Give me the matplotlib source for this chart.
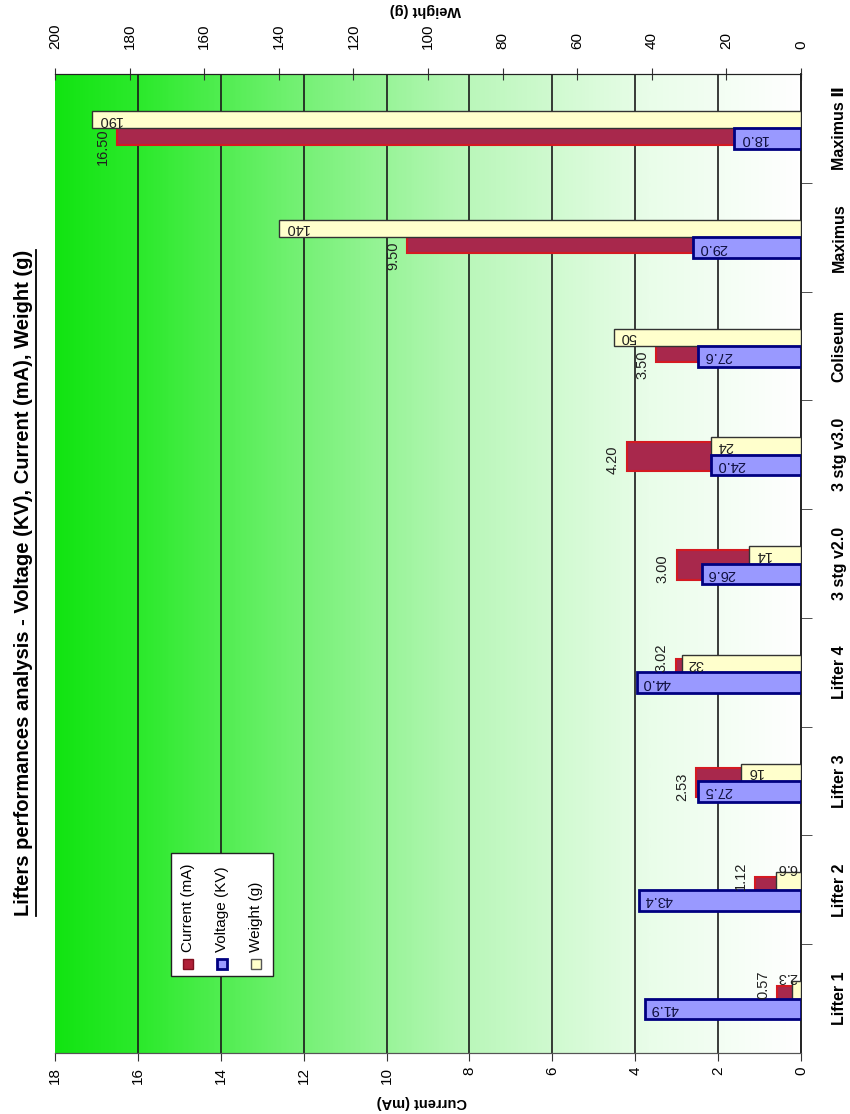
import matplotlib
matplotlib.use("Agg")
import matplotlib.pyplot as plt
import numpy as np
from matplotlib import font_manager
from matplotlib.patches import Rectangle
from matplotlib.lines import Line2D
from matplotlib.colors import LinearSegmentedColormap

# ---- data -------------------------------------------------------------
categories = ["Lifter 1", "Lifter 2", "Lifter 3", "Lifter 4", "3 stg v2.0",
              "3 stg v3.0", "Coliseum", "Maximus", "Maximus \u2161"]
current_ma = [0.57, 1.12, 2.53, 3.02, 3.00, 4.20, 3.50, 9.50, 16.50]
voltage_kv = [41.9, 43.4, 27.5, 44.0, 26.6, 24.0, 27.6, 29.0, 18.0]
weight_g = [2.3, 6.6, 16, 32, 14, 24, 50, 140, 190]
current_ticks = list(range(0, 19, 2))
weight_ticks = list(range(0, 201, 20))
title = "Lifters performances analysis - Voltage (KV), Current (mA), Weight (g)"
legend_labels = ["Current (mA)", "Voltage (KV)", "Weight (g)"]

# ---- fonts ------------------------------------------------------------
available = {f.name for f in font_manager.fontManager.ttflist}
narrow = "Liberation Sans Narrow" if "Liberation Sans Narrow" in available else "Liberation Sans"
NARROW = [narrow, "DejaVu Sans"]
PLAIN = ["Liberation Sans", "DejaVu Sans"]

W, H = 850, 1114
fig = plt.figure(figsize=(W / 100, H / 100), dpi=100)
fig.patch.set_facecolor("white")

L, R, T, B = 55, 801, 74, 1053
ax = fig.add_axes([L / W, 1 - B / H, (R - L) / W, (B - T) / H])

n = len(categories)
ypos = np.arange(n)

# green-to-white background
cmap = LinearSegmentedColormap.from_list(
    "bg", [(0.0, "#12e412"), (0.12, "#2eea2e"), (0.3, "#6cf06c"),
           (0.55, "#b9f7b9"), (0.8, "#e9fde9"), (1.0, "#ffffff")])
grad = np.linspace(0, 1, 400).reshape(1, -1)
ax.imshow(grad, extent=[18, 0, -0.5, n - 0.5], aspect="auto", cmap=cmap,
          zorder=0, interpolation="bilinear")
ax.set_xlim(18, 0)
ax.set_ylim(-0.5, n - 0.5)

# vertical grid lines on the current scale
ax.vlines(current_ticks[1:-1], -0.5, n - 0.5, color="#1a1a1a", lw=1.2, zorder=1)

# current bars (behind the other two series)
ax.barh(ypos - 0.015, current_ma, height=0.27, color="#a8284c",
        edgecolor="#d41a22", linewidth=1.5, zorder=2)

# weight / voltage on the top axis
ax2 = ax.twiny()
ax2.patch.set_visible(False)
ax2.set_xlim(200, 0)
ax2.set_ylim(-0.5, n - 0.5)
ax2.barh(ypos + 0.08, weight_g, height=0.16, color="#ffffcc",
         edgecolor="#333333", linewidth=1.0, zorder=3)
ax2.barh(ypos - 0.095, voltage_kv, height=0.19, color="#9999ff",
         edgecolor="#000080", linewidth=2.0, zorder=3)

# value labels
for yi, v in zip(ypos, voltage_kv):
    ax2.annotate(f"{v:.1f}", (v, yi - 0.095), xytext=(4, 0),
                 textcoords="offset points", rotation=180, ha="left",
                 va="center", fontsize=10.5, family=PLAIN, color="#101040",
                 zorder=5)
for yi, v in zip(ypos, weight_g):
    txt = f"{v:g}"
    if v < 10:
        ax2.annotate(txt, (0, yi + 0.16), xytext=(-3, -2),
                     textcoords="offset points", rotation=180, ha="right",
                     va="bottom", fontsize=10.5, family=PLAIN, color="#202020",
                     zorder=5)
    else:
        ax2.annotate(txt, (v, yi + 0.08), xytext=(4, 0),
                     textcoords="offset points", rotation=180, ha="left",
                     va="center", fontsize=10.5, family=PLAIN, color="#202020",
                     zorder=5)

# current labels sit beside the bar end, kept clear of the neighbouring bars
for yi, v, kv, g in zip(ypos, current_ma, voltage_kv, weight_g):
    end_px = ax.transData.transform((v, 0))[0] - 7
    volt_px = ax2.transData.transform((kv, 0))[0]
    wt_px = ax2.transData.transform((g, 0))[0]
    if end_px > wt_px:
        yl = yi - 0.17      # below the weight bar
    elif end_px > volt_px:
        yl = yi + 0.13      # above the voltage bar
    else:
        yl = yi - 0.05
    ax2.annotate(f"{v:.2f}", (v, yl), xycoords=ax.transData, xytext=(-5, 0),
                 textcoords="offset points", rotation=90, ha="right",
                 va="center", fontsize=10.5, family=NARROW, color="#202020",
                 zorder=6)

# spines
for a in (ax, ax2):
    a.spines["left"].set_visible(False)
    a.spines["top"].set_color("#222222")
    a.spines["bottom"].set_color("#555555")
    a.spines["right"].set_color("#222222")
    a.spines["right"].set_linewidth(1.2)

# bottom axis (current)
ax.set_xticks(current_ticks)
ax.set_xticklabels([str(t) for t in current_ticks], rotation=90,
                   family=NARROW, fontsize=11)
ax.tick_params(axis="x", direction="out", length=6, pad=4, color="#333333")

# top axis (weight)
ax2.set_xticks(weight_ticks)
ax2.set_xticklabels([str(t) for t in weight_ticks], rotation=90,
                    family=NARROW, fontsize=11)
ax2.tick_params(axis="x", direction="inout", length=8, pad=14, color="#333333")

# category axis on the right
ax.yaxis.tick_right()
ax.set_yticks(ypos)
ax.set_yticklabels(categories, rotation=90, va="center", ha="left",
                   family=NARROW, fontsize=11.5, fontweight="bold")
ax.set_yticks(ypos[:-1] + 0.5, minor=True)
ax.tick_params(axis="y", which="major", length=0, pad=22)
ax.tick_params(axis="y", which="minor", direction="out", length=8,
               color="#333333")

# axis titles
fig.text(425 / W, 1 - 10 / H, "Weight (g)", rotation=180, ha="center",
         va="center", fontsize=10.5, fontweight="bold", family=NARROW)
fig.text(422 / W, 1 - 1102 / H, "Current (mA)", rotation=180, ha="center",
         va="center", fontsize=10.5, fontweight="bold", family=NARROW)

# chart title with underline
ttl = fig.text(24 / W, 1 - 583 / H, title, rotation=90, ha="center",
               va="center", fontsize=14.5, fontweight="bold", family=NARROW)

# legend box
lx0, ly0, lx1, ly1 = 171, 853, 273, 976
fig.add_artist(Rectangle((lx0 / W, 1 - ly1 / H), (lx1 - lx0) / W,
                         (ly1 - ly0) / H, transform=fig.transFigure,
                         facecolor="white", edgecolor="#222222", lw=1.0,
                         zorder=10))
swatches = [("#b02038", "#801020", 1.0), ("#9999ff", "#000080", 2.0),
            ("#ffffcc", "#555555", 1.0)]
for i, (lab, (fc, ec, lw)) in enumerate(zip(legend_labels, swatches)):
    cx = 188 + i * 34
    s = 10
    fig.add_artist(Rectangle(((cx - s / 2) / W, 1 - (964 + s / 2) / H),
                             s / W, s / H, transform=fig.transFigure,
                             facecolor=fc, edgecolor=ec, lw=lw, zorder=11))
    fig.text(cx / W, 1 - 952 / H, lab, rotation=90, ha="center", va="bottom",
             fontsize=11, family=PLAIN, zorder=11)

fig.canvas.draw()
bb = ttl.get_window_extent(fig.canvas.get_renderer())
ux = (bb.x1 + 2) / W
fig.add_artist(Line2D([ux, ux], [bb.y0 / H, bb.y1 / H],
                      transform=fig.transFigure, color="black", lw=1.3))

fig.savefig("out.png", dpi=100)
